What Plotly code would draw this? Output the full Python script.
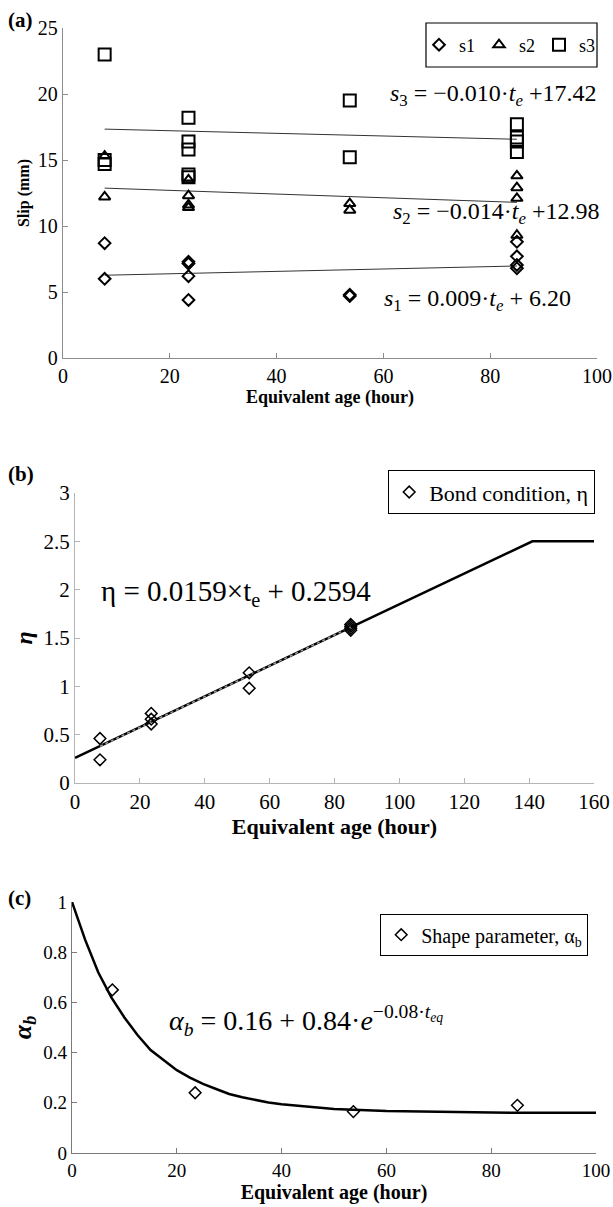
import plotly.graph_objects as go

W, H = 613, 1207
FONT = "Liberation Serif, Times New Roman, Times, serif"


def px(x):
    return x / W


def py(y):
    return 1 - y / H


# ---------------- Panel (a): slip vs equivalent age ----------------
age_s1 = [7.8, 7.8, 23.5, 23.5, 23.5, 23.5, 53.7, 53.7, 85, 85, 85, 85]
slip_s1 = [8.7, 6.0, 7.3, 7.15, 6.2, 4.4, 4.8, 4.7, 8.8, 7.7, 7.05, 6.8]
age_s2 = [7.8, 7.8, 23.5, 23.5, 23.5, 23.5, 53.7, 53.7, 85, 85, 85, 85]
slip_s2 = [15.3, 12.2, 13.5, 12.3, 11.6, 11.4, 11.7, 11.2, 13.8, 12.9, 12.1, 9.3]
age_s3 = [7.8, 7.8, 7.8, 23.5, 23.5, 23.5, 23.5, 23.5, 53.7, 53.7, 85, 85, 85, 85]
slip_s3 = [23.0, 15.0, 14.7, 18.2, 16.4, 15.8, 13.9, 13.7, 19.5, 15.2, 17.7, 16.7, 16.4, 15.6]
fit_age_a = [7.8, 85]
fit_s1 = [6.27, 6.97]
fit_s2 = [12.87, 11.79]
fit_s3 = [17.34, 16.57]

# ---------------- Panel (b): bond condition ----------------
age_eta = [7.7, 7.7, 23.5, 23.5, 23.5, 53.7, 53.7, 85, 85, 85, 85]
eta_vals = [0.46, 0.24, 0.72, 0.66, 0.61, 1.14, 0.98, 1.64, 1.62, 1.60, 1.58]
model_age_b = [0, 141, 160]
model_eta = [0.26, 2.5, 2.5]
fit_age_b = [7.7, 85]
fit_eta = [0.38, 1.61]

# ---------------- Panel (c): shape parameter ----------------
age_alpha = [7.7, 23.5, 53.7, 85]
alpha_vals = [0.65, 0.24, 0.165, 0.19]
curve_age_c = [0, 2.5, 5, 7.5, 10, 12.5, 15, 17.5, 20, 22.5, 25, 27.5, 30, 32.5, 35, 37.5,
               40, 45, 50, 60, 70, 80, 90, 100]
curve_alpha = [1.0, 0.85, 0.72, 0.62, 0.54, 0.47, 0.41, 0.37, 0.33, 0.30, 0.275, 0.255,
               0.235, 0.222, 0.21, 0.201, 0.194, 0.183, 0.175, 0.167, 0.163, 0.161, 0.160, 0.160]

fig = go.Figure()

mk = dict(color="black", line=dict(color="black", width=2))

# (a)
for fy in (fit_s1, fit_s2, fit_s3):
    fig.add_trace(go.Scatter(x=fit_age_a, y=fy, mode="lines", line=dict(color="#333", width=1),
                             showlegend=False, xaxis="x", yaxis="y"))
fig.add_trace(go.Scatter(x=age_s1, y=slip_s1, mode="markers", name="s1",
                         marker=dict(symbol="diamond-open", size=9, **mk),
                         xaxis="x", yaxis="y", legend="legend"))
fig.add_trace(go.Scatter(x=age_s2, y=slip_s2, mode="markers", name="s2",
                         marker=dict(symbol="triangle-up-open", size=10, **mk),
                         xaxis="x", yaxis="y", legend="legend"))
fig.add_trace(go.Scatter(x=age_s3, y=slip_s3, mode="markers", name="s3",
                         marker=dict(symbol="square-open", size=12, **mk),
                         xaxis="x", yaxis="y", legend="legend"))

# (b)
fig.add_trace(go.Scatter(x=model_age_b, y=model_eta, mode="lines", line=dict(color="black", width=2.5),
                         showlegend=False, xaxis="x2", yaxis="y2"))
fig.add_trace(go.Scatter(x=fit_age_b, y=fit_eta, mode="lines",
                         line=dict(color="#9a9a9a", width=1.5, dash="dot"),
                         showlegend=False, xaxis="x2", yaxis="y2"))
fig.add_trace(go.Scatter(x=age_eta, y=eta_vals, mode="markers", name="Bond condition, η",
                         marker=dict(symbol="diamond-open", size=9, color="black",
                                     line=dict(color="black", width=1.5)),
                         xaxis="x2", yaxis="y2", legend="legend2"))

# (c)
fig.add_trace(go.Scatter(x=curve_age_c, y=curve_alpha, mode="lines", line=dict(color="black", width=2.5),
                         showlegend=False, xaxis="x3", yaxis="y3"))
fig.add_trace(go.Scatter(x=age_alpha, y=alpha_vals, mode="markers", name="Shape parameter, α<sub>b</sub>",
                         marker=dict(symbol="diamond-open", size=9, color="black",
                                     line=dict(color="black", width=1.5)),
                         xaxis="x3", yaxis="y3", legend="legend3"))


def axis(domain, rng, dtick, anchor, title, tsize, tickfont=20, standoff=None, color="#8c8c8c"):
    d = dict(domain=domain, range=rng, dtick=dtick, anchor=anchor, automargin=False,
             showline=True, linecolor=color, linewidth=1.3,
             ticks="inside", ticklen=5, tickcolor=color, tickwidth=1,
             showgrid=False, zeroline=False,
             tickfont=dict(family=FONT, size=tickfont, color="black"),
             title=dict(text=title, font=dict(family=FONT, size=tsize, color="black")))
    if standoff is not None:
        d["title"]["standoff"] = standoff
    return d


fig.update_layout(
    template="none",
    width=W, height=H,
    margin=dict(l=0, r=0, t=0, b=0),
    paper_bgcolor="white", plot_bgcolor="white",
    font=dict(family=FONT, color="black"),
    xaxis=axis([px(63), px(597)], [0, 100], 20, "y", "<b>Equivalent age (hour)</b>", 18, 20, 4),
    yaxis=axis([py(358), py(28)], [0, 25], 5, "x", "<b>Slip (mm)</b>", 16, 20, 4),
    xaxis2=axis([px(75), px(594)], [0, 160], 20, "y2", "<b>Equivalent age (hour)</b>", 22, 21, 4, "#b5b5b5"),
    yaxis2=axis([py(783), py(493)], [0, 3], 0.5, "x2", "<b><i>η</i></b>", 24, 21, 4, "#b5b5b5"),
    xaxis3=axis([px(72), px(596)], [0, 100], 20, "y3", "<b>Equivalent age (hour)</b>", 20, 19, 4, "#7a7a7a"),
    yaxis3=axis([py(1153), py(902)], [0, 1], 0.2, "x3", "<b><i>α<sub>b</sub></i></b>", 26, 19, 4, "#7a7a7a"),
    legend=dict(x=px(419), y=py(45), xanchor="left", yanchor="middle", orientation="h",
                itemwidth=30, entrywidth=15, entrywidthmode="pixels",
                borderwidth=0, bgcolor="rgba(0,0,0,0)",
                font=dict(family=FONT, size=18, color="black")),
    legend2=dict(x=px(595), y=py(470), xanchor="right", yanchor="top",
                 itemwidth=30, bordercolor="black", borderwidth=1.2, bgcolor="white",
                 font=dict(family=FONT, size=22, color="black")),
    legend3=dict(x=px(588), y=py(914), xanchor="right", yanchor="top",
                 itemwidth=30, bordercolor="black", borderwidth=1.2, bgcolor="white",
                 font=dict(family=FONT, size=20, color="black")),
    shapes=[dict(type="rect", xref="paper", yref="paper", x0=px(426), x1=px(597), y0=py(67), y1=py(23),
                 line=dict(color="black", width=1.2), fillcolor="white", layer="below")],
)

ann = []
ann.append(dict(text="<b>(a)</b>", x=px(6), y=py(20), xanchor="left", yanchor="middle", font=dict(size=21)))
ann.append(dict(text="<b>(b)</b>", x=px(6), y=py(474), xanchor="left", yanchor="middle", font=dict(size=21)))
ann.append(dict(text="<b>(c)</b>", x=px(6), y=py(898), xanchor="left", yanchor="middle", font=dict(size=21)))
ann.append(dict(text="<i>s</i><sub>3</sub> = −0.010·<i>t</i><sub><i>e</i></sub> +17.42",
                x=px(598), y=py(95), xanchor="right", yanchor="middle", font=dict(size=24)))
ann.append(dict(text="<i>s</i><sub>2</sub> = −0.014·<i>t</i><sub><i>e</i></sub> +12.98",
                x=px(601), y=py(213), xanchor="right", yanchor="middle", font=dict(size=24)))
ann.append(dict(text="<i>s</i><sub>1</sub> = 0.009·<i>t</i><sub><i>e</i></sub> + 6.20",
                x=px(382), y=py(300), xanchor="left", yanchor="middle", font=dict(size=24)))
ann.append(dict(text="η = 0.0159×t<sub>e</sub> + 0.2594",
                x=px(99), y=py(593), xanchor="left", yanchor="middle", font=dict(size=29)))
ann.append(dict(text="<i>α</i><sub><i>b</i></sub> = 0.16 + 0.84·<i>e</i><sup>−0.08·<i>t<sub>eq</sub></i></sup>",
                x=px(167), y=py(1020), xanchor="left", yanchor="middle", font=dict(size=28)))
for a in ann:
    a.update(xref="paper", yref="paper", showarrow=False)
    a["font"].update(family=FONT, color="black")
fig.update_layout(annotations=ann)

fig.write_html("out.html")
